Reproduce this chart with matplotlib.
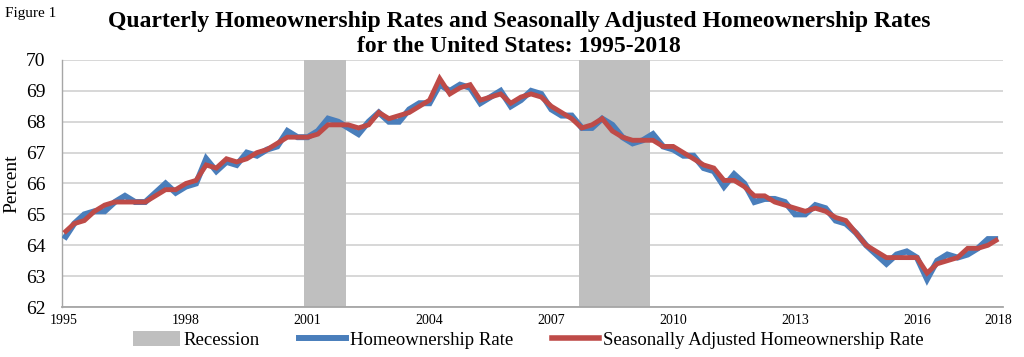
import matplotlib
matplotlib.use("Agg")
import matplotlib.pyplot as plt
from matplotlib.patches import Patch
from matplotlib.lines import Line2D

# ---------------- data ----------------
start_year = 1995
homeownership_rate = [
    64.2, 64.7, 65.0, 65.1,
    65.1, 65.4, 65.6, 65.4,
    65.4, 65.7, 66.0, 65.7,
    65.9, 66.0, 66.8, 66.4,
    66.7, 66.6, 67.0, 66.9,
    67.1, 67.2, 67.7, 67.5,
    67.5, 67.7, 68.1, 68.0,
    67.8, 67.6, 68.0, 68.3,
    68.0, 68.0, 68.4, 68.6,
    68.6, 69.2, 69.0, 69.2,
    69.1, 68.6, 68.8, 69.0,
    68.5, 68.7, 69.0, 68.9,
    68.4, 68.2, 68.2, 67.8,
    67.8, 68.1, 67.9, 67.5,
    67.3, 67.4, 67.6, 67.2,
    67.1, 66.9, 66.9, 66.5,
    66.4, 65.9, 66.3, 66.0,
    65.4, 65.5, 65.5, 65.4,
    65.0, 65.0, 65.3, 65.2,
    64.8, 64.7, 64.4, 64.0,
    63.7, 63.4, 63.7, 63.8,
    63.6, 62.9, 63.5, 63.7,
    63.6, 63.7, 63.9, 64.2,
    64.2,
]
seasonally_adjusted = [
    64.4, 64.7, 64.8, 65.1,
    65.3, 65.4, 65.4, 65.4,
    65.4, 65.6, 65.8, 65.8,
    66.0, 66.1, 66.6, 66.5,
    66.8, 66.7, 66.8, 67.0,
    67.1, 67.3, 67.5, 67.5,
    67.5, 67.6, 67.9, 67.9,
    67.9, 67.8, 67.9, 68.3,
    68.1, 68.2, 68.3, 68.5,
    68.7, 69.4, 68.9, 69.1,
    69.2, 68.7, 68.8, 68.9,
    68.6, 68.8, 68.9, 68.8,
    68.5, 68.3, 68.1, 67.8,
    67.9, 68.1, 67.7, 67.5,
    67.4, 67.4, 67.4, 67.2,
    67.2, 67.0, 66.8, 66.6,
    66.5, 66.1, 66.1, 65.9,
    65.6, 65.6, 65.4, 65.3,
    65.2, 65.1, 65.2, 65.1,
    64.9, 64.8, 64.4, 64.0,
    63.8, 63.6, 63.6, 63.6,
    63.6, 63.1, 63.4, 63.5,
    63.6, 63.9, 63.9, 64.0,
    64.2,
]
recession_starts = [2000.91, 2007.67]
recession_ends = [2001.94, 2009.43]
tick_years = [1995, 1998, 2001, 2004, 2007, 2010, 2013, 2016, 2018]
y_ticks = [62, 63, 64, 65, 66, 67, 68, 69, 70]

# ---------------- style ----------------
SERIF = ["Liberation Serif", "DejaVu Serif"]
plt.rcParams["font.family"] = SERIF
BLUE = "#4A7EBB"
RED = "#BE4B48"
GRAY = "#BFBFBF"

fig = plt.figure(figsize=(10.24, 3.57), dpi=100)
ax = fig.add_axes([62 / 1024, 1 - 307 / 357, (1003 - 62) / 1024, (307 - 60) / 357])

quarters = [start_year + i / 4 for i in range(len(homeownership_rate))]

for s, e in zip(recession_starts, recession_ends):
    ax.axvspan(s, e, color=GRAY, zorder=1, lw=0)

ax.plot(quarters, homeownership_rate, color=BLUE, lw=4.3, zorder=3,
        solid_joinstyle="miter", solid_capstyle="butt")
ax.plot(quarters, seasonally_adjusted, color=RED, lw=3.5, zorder=4,
        solid_joinstyle="miter", solid_capstyle="butt")

ax.set_xlim(1994.95, 2018.12)
ax.set_ylim(62, 70)
ax.set_yticks(y_ticks)
ax.set_yticklabels([str(v) for v in y_ticks], fontsize=14)
ax.set_xticks(tick_years)
ax.set_xticklabels([str(v) for v in tick_years], fontsize=10)
ax.tick_params(axis="both", length=0)
ax.tick_params(axis="y", pad=12)
ax.tick_params(axis="x", pad=5)
ax.yaxis.grid(True, color="#D4D4D4", lw=1.3, zorder=0)
ax.set_axisbelow(True)
for side in ["top", "right"]:
    ax.spines[side].set_visible(False)
ax.spines["left"].set_color("#A6A6A6")
ax.spines["left"].set_linewidth(1.0)
ax.spines["bottom"].set_color("#A6A6A6")
ax.spines["bottom"].set_linewidth(1.3)

ax.set_ylabel("Percent", fontsize=14, labelpad=4)

fig.text(0.005, 1 - 14 / 357, "Figure 1", fontsize=11, ha="left", va="center")
fig.text(519 / 1024, 1 - 21 / 357,
         "Quarterly Homeownership Rates and Seasonally Adjusted Homeownership Rates",
         fontsize=17, fontweight="bold", ha="center", va="center")
fig.text(519 / 1024, 1 - 46 / 357, "for the United States: 1995-2018",
         fontsize=17, fontweight="bold", ha="center", va="center")

handles = [
    Patch(facecolor=GRAY, edgecolor="none"),
    Line2D([0], [0], color=BLUE, lw=4.3),
    Line2D([0], [0], color=RED, lw=4.0),
]
labels = ["Recession", "Homeownership Rate", "Seasonally Adjusted Homeownership Rate"]
fig.legend(handles, labels, loc="center", bbox_to_anchor=(528 / 1024, 1 - 340 / 357),
           ncol=3, frameon=False, fontsize=13.5, handlelength=2.5, handleheight=0.9,
           handletextpad=0.2, columnspacing=2.1)

fig.savefig("out.png", dpi=100)
